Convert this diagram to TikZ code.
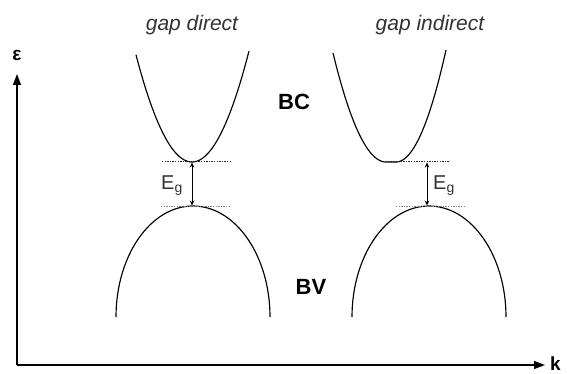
\documentclass[tikz,border=0pt]{standalone}
\usepackage{fontspec}
\setmainfont{Liberation Sans}
\usetikzlibrary{arrows.meta}
\begin{document}
\begin{tikzpicture}[x=1pt,y=-1pt,
  curve/.style={line width=1.15pt},
  lvl/.style={dash pattern=on 1.3pt off 1.3pt, line width=1pt, black!85},
  lvllow/.style={dash pattern=on 1.3pt off 1.3pt, line width=1pt, black!50},
  gaparrow/.style={{Stealth[length=5pt,width=4.5pt]}-{Stealth[length=5pt,width=4.5pt]}, line width=0.8pt},
  axis/.style={-{Triangle[length=11pt,width=8pt]}, line width=1.15pt},
  title/.style={inner sep=0pt, font=\itshape\fontsize{21}{24}\selectfont, text=black!80},
  band/.style={inner sep=0pt, font=\bfseries\fontsize{22}{26}\selectfont},
  axlabel/.style={inner sep=0pt, font=\bfseries\fontsize{19}{22}\selectfont},
  eg/.style={inner sep=0pt, font=\fontsize{20}{24}\selectfont, text=black!80}]
\useasboundingbox (0,0) rectangle (567,374);

% axes
\coordinate (O) at (17,365);
\coordinate (ytip) at (17,74);
\coordinate (xtip) at (545,365);
\draw[axis] (O) -- (ytip);
\draw[axis] (O) -- (xtip);
\node[axlabel] (eps) at (17,55) {ε};
\node[axlabel, anchor=west] (k) at (550,364) {k};

% titles
\node[title] (t1) at (192,25) {gap direct};
\node[title] (t2) at (430,25) {gap indirect};

% band labels
\node[band] (bc) at (294,102) {BC};
\node[band] (bv) at (311,287) {BV};

% direct gap: conduction band (parabola) and valence band (half ellipse)
\draw[curve] plot[domain=-56:57, samples=80] ({192+\x},{162-111*(\x/57)^2});
\draw[curve] (116,317) arc[start angle=180, end angle=360, x radius=77, y radius=111];

% indirect gap
\draw[curve] plot[domain=-53:0, samples=50] ({386+\x},{162-109*(\x/53)^2})
  -- (396,162)
  -- plot[domain=0:50, samples=50] ({396+\x},{162-112*(\x/50)^2});
\draw[curve] (352,317) arc[start angle=180, end angle=360, x radius=77, y radius=111];

% levels
\coordinate (d1a) at (162,162); \coordinate (d1b) at (230,162);
\coordinate (d2a) at (161,206); \coordinate (d2b) at (229,206);
\coordinate (i1a) at (385,162); \coordinate (i1b) at (450,162);
\coordinate (i2a) at (396,206); \coordinate (i2b) at (465,206);
\draw[lvl] (d1a) -- (d1b);
\draw[lvllow] (d2a) -- (d2b);
\draw[lvl] (i1a) -- (i1b);
\draw[lvllow] (i2a) -- (i2b);

% gap arrows
\coordinate (dg1) at (192,162.5); \coordinate (dg2) at (192,205.5);
\coordinate (ig1) at (427,162.5); \coordinate (ig2) at (427,205.5);
\draw[gaparrow] (dg1) -- (dg2);
\draw[gaparrow] (ig1) -- (ig2);
\node[eg] (eg1) at (172,186) {E\textsubscript{g}};
\node[eg] (eg2) at (444,186) {E\textsubscript{g}};
\end{tikzpicture}
\end{document}
